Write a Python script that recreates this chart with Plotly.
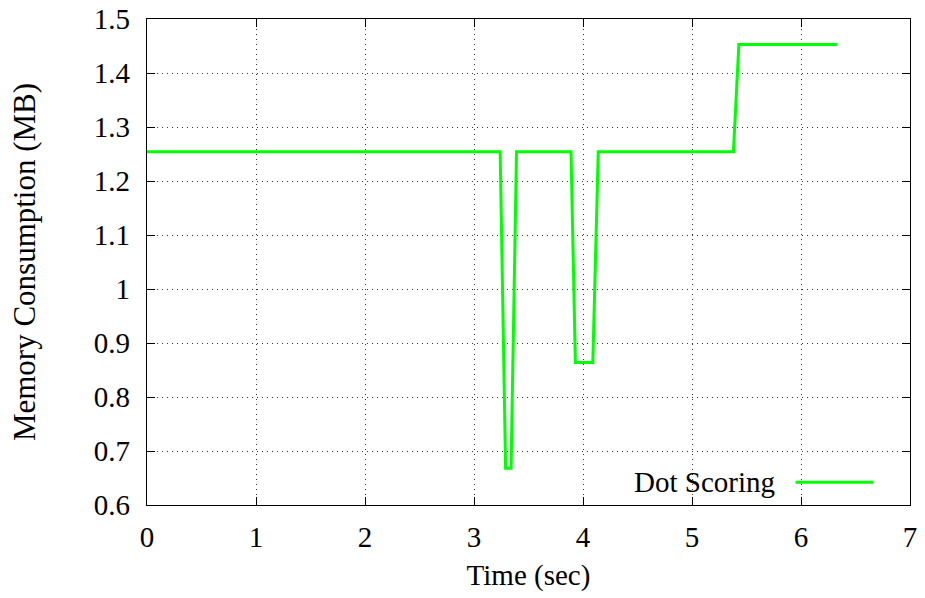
import plotly.graph_objects as go

time_sec = [0.0, 3.24, 3.29, 3.34, 3.39, 3.89, 3.93, 4.09, 4.14, 5.38, 5.43, 6.33]
memory_mb = [1.254, 1.254, 0.668, 0.668, 1.254, 1.254, 0.864, 0.864, 1.254, 1.254, 1.453, 1.453]
series_name = "Dot Scoring"
x_ticks = [0, 1, 2, 3, 4, 5, 6, 7]
y_ticks = [0.6, 0.7, 0.8, 0.9, 1.0, 1.1, 1.2, 1.3, 1.4, 1.5]
y_tick_labels = ["0.6", "0.7", "0.8", "0.9", "1", "1.1", "1.2", "1.3", "1.4", "1.5"]

FONT = "Liberation Serif"
GREEN = "#00ff00"
FS = 29

fig = go.Figure()
fig.add_trace(go.Scatter(x=time_sec, y=memory_mb, mode="lines", name=series_name,
                         line=dict(color=GREEN, width=3), showlegend=False))

axis_common = dict(showline=True, linecolor="black", linewidth=1.2, mirror="allticks",
                   ticks="inside", ticklen=8, tickcolor="black", tickwidth=1,
                   showgrid=True, gridcolor="#333333", gridwidth=1, griddash="1px,4px",
                   zeroline=False, automargin=False,
                   tickfont=dict(family=FONT, size=FS, color="black"))

fig.update_xaxes(range=[0, 7], tickvals=x_ticks, ticktext=[str(v) for v in x_ticks],
                 ticklabelstandoff=6,
                 title=dict(text="Time (sec)", font=dict(family=FONT, size=FS, color="black"), standoff=12),
                 **axis_common)
fig.update_yaxes(range=[0.6, 1.5], tickvals=y_ticks, ticktext=y_tick_labels,
                 ticklabelstandoff=10,
                 title=dict(text="Memory Consumption (MB)", font=dict(family=FONT, size=31, color="black"), standoff=48),
                 **axis_common)

# legend key (text left of sample line, gnuplot style)
fig.add_annotation(xref="paper", yref="paper", x=0.826, y=0.047, text=series_name,
                   showarrow=False, xanchor="right", yanchor="middle",
                   font=dict(family=FONT, size=FS, color="black"))
fig.add_shape(type="line", xref="paper", yref="paper", x0=0.850, x1=0.952, y0=0.047, y1=0.047,
              line=dict(color=GREEN, width=3))

fig.update_layout(width=925, height=598, margin=dict(l=147, r=15, t=19, b=93),
                  plot_bgcolor="white", paper_bgcolor="white",
                  font=dict(family=FONT, color="black"))

fig.write_html("out.html")
